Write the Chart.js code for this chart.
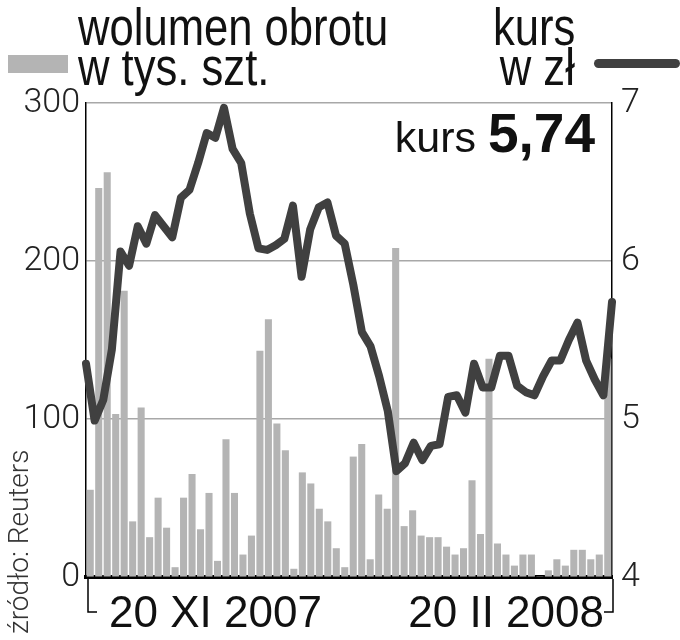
<!DOCTYPE html>
<html>
<head>
<meta charset="utf-8">
<script src="https://cdn.jsdelivr.net/npm/chart.js@4.4.1/dist/chart.umd.min.js"></script>
<style>
  body { margin: 0; background: #fff; }
  .wrap { position: relative; width: 680px; height: 640px; overflow: hidden; font-family: "Liberation Sans", Arial, sans-serif; color: #111; }
  .wrap canvas { position: absolute; left: 0; top: 0; }
  .txt { position: absolute; white-space: nowrap; line-height: 1; }
  .leg { font-size: 51px; transform: scaleX(0.855); transform-origin: 0 0; }
  .leg.pr { transform-origin: 100% 0; }
  .sw-bar { position: absolute; left: 8px; top: 55px; width: 60px; height: 18px; background: #b4b4b4; }
  .sw-line { position: absolute; left: 594px; top: 59px; width: 86px; height: 9px; border-radius: 5px; background: #404040; }
  .kurs { right: 85px; top: 106px; font-size: 55px; line-height: 54px; }
  .kurs span { font-size: 43px; }
  .kurs b { font-weight: bold; }
  .data { font-size: 44px; top: 590px; }
  .zrodlo { left: 0; top: 0; font-family: Roboto, sans-serif; font-weight: 300; font-size: 28px; color: #333;
            transform-origin: 0 0; transform: translate(5px, 634px) rotate(-90deg); }
</style>
</head>
<body>
<div class="wrap">
  <canvas id="wykres" width="680" height="640"></canvas>
  <div class="sw-bar"></div>
  <div class="txt leg" style="left:78px; top:2px;">wolumen obrotu</div>
  <div class="txt leg" style="left:78px; top:42px;">w tys. szt.</div>
  <div class="txt leg pr" style="right:105px; top:2px;">kurs</div>
  <div class="txt leg pr" style="right:105px; top:42px;">w zł</div>
  <div class="sw-line"></div>
  <div class="txt kurs"><span>kurs </span><b>5,74</b></div>
  <div class="txt data" style="left:109px;">20 XI 2007</div>
  <div class="txt data" style="right:76px;">20 II 2008</div>
  <div class="txt zrodlo">źródło: Reuters</div>
</div>
<script>
// sesje od 20 XI 2007 do 20 II 2008
const dni = ['20.11','21.11','22.11','23.11','26.11','27.11','28.11','29.11','30.11',
  '03.12','04.12','05.12','06.12','07.12','10.12','11.12','12.12','13.12','14.12',
  '17.12','18.12','19.12','20.12','21.12','27.12','28.12',
  '02.01','03.01','04.01','07.01','08.01','09.01','10.01','11.01','14.01','15.01',
  '16.01','17.01','18.01','21.01','22.01','23.01','24.01','25.01','28.01','29.01',
  '30.01','31.01','01.02','04.02','05.02','06.02','07.02','08.02','11.02','12.02',
  '13.02','14.02','15.02','18.02','19.02','20.02'];

// wolumen obrotu w tys. szt.
const wolumen = [55, 246, 256, 103, 181, 35, 107, 25, 50, 31,
  6, 50, 65, 30, 53, 10, 87, 53, 14, 26,
  143, 163, 97, 80, 5, 66, 59, 43, 35, 18,
  6, 76, 84, 11, 52, 43, 208, 32, 42, 26,
  25, 25, 19, 14, 18, 61, 27, 138, 21, 14,
  7, 14, 14, 0, 4, 11, 7, 17, 17, 11,
  14, 138];

// kurs w zl
const kurs = [5.35, 4.99, 5.12, 5.44, 6.06, 5.97, 6.22, 6.11, 6.29, 6.22,
  6.15, 6.40, 6.45, 6.62, 6.81, 6.78, 6.97, 6.71, 6.62, 6.30,
  6.08, 6.07, 6.10, 6.14, 6.35, 5.90, 6.20, 6.34, 6.37, 6.16,
  6.11, 5.85, 5.55, 5.46, 5.27, 5.05, 4.67, 4.72, 4.85, 4.74,
  4.83, 4.84, 5.14, 5.15, 5.04, 5.35, 5.20, 5.20, 5.40, 5.40,
  5.21, 5.17, 5.15, 5.27, 5.37, 5.37, 5.50, 5.61, 5.37, 5.25,
  5.15, 5.74];

const wolumenTicks = [0, 100, 200, 300];
const kursTicks = [4, 5, 6, 7];

// klamra pod osia X
const klamra = {
  id: 'klamra',
  afterDraw(chart) {
    const { ctx, chartArea } = chart;
    const l = chartArea.left + 2, r = chartArea.right + 1, t = chartArea.bottom + 2, b = 612;
    ctx.save();
    ctx.strokeStyle = '#000';
    ctx.lineWidth = 1.5;
    ctx.beginPath();
    ctx.moveTo(l, t); ctx.lineTo(l, b); ctx.lineTo(l + 9, b);
    ctx.moveTo(r, t); ctx.lineTo(r, b); ctx.lineTo(r - 9, b);
    ctx.stroke();
    ctx.restore();
  }
};

const tickFont = { family: 'Roboto', weight: 300, size: 34 };

new Chart(document.getElementById('wykres'), {
  type: 'bar',
  data: {
    labels: dni,
    datasets: [{
      type: 'line',
      label: 'kurs',
      data: kurs,
      xAxisID: 'x2',
      yAxisID: 'y1',
      borderColor: '#404040',
      borderWidth: 8,
      borderJoinStyle: 'round',
      borderCapStyle: 'round',
      pointRadius: 0,
      tension: 0,
      order: 0
    }, {
      label: 'wolumen',
      data: wolumen,
      yAxisID: 'y',
      backgroundColor: '#b4b4b4',
      grouped: false,
      barThickness: 6.4,
      order: 1
    }]
  },
  options: {
    responsive: false,
    animation: false,
    layout: { padding: { top: 103, left: 0, right: 0, bottom: 0 } },
    plugins: { legend: { display: false }, tooltip: { enabled: false } },
    scales: {
      x: {
        offset: true,
        ticks: { display: false },
        grid: { display: false },
        border: { display: true, color: '#000', width: 4 },
        afterFit: (s) => { s.height = 63; }
      },
      x2: {
        type: 'category',
        labels: dni,
        offset: false,
        display: false
      },
      y: {
        position: 'left',
        min: wolumenTicks[0],
        max: wolumenTicks[wolumenTicks.length - 1],
        afterBuildTicks: (s) => { s.ticks = wolumenTicks.map(v => ({ value: v })); },
        ticks: { font: tickFont, color: '#222', padding: 6 },
        grid: {
          drawTicks: false,
          lineWidth: 1.5,
          color: (c) => c.tick && c.tick.value === 0 ? 'rgba(0,0,0,0)' : '#a8a8a8'
        },
        border: { display: true, color: '#000', width: 1.5 },
        afterFit: (s) => { s.width = 86; }
      },
      y1: {
        position: 'right',
        min: kursTicks[0],
        max: kursTicks[kursTicks.length - 1],
        afterBuildTicks: (s) => { s.ticks = kursTicks.map(v => ({ value: v })); },
        ticks: { font: tickFont, color: '#222', padding: 9 },
        grid: { display: false, drawTicks: false },
        border: { display: true, color: '#000', width: 1.5 },
        afterFit: (s) => { s.width = 68; }
      }
    }
  },
  plugins: [klamra]
});
</script>
</body>
</html>
